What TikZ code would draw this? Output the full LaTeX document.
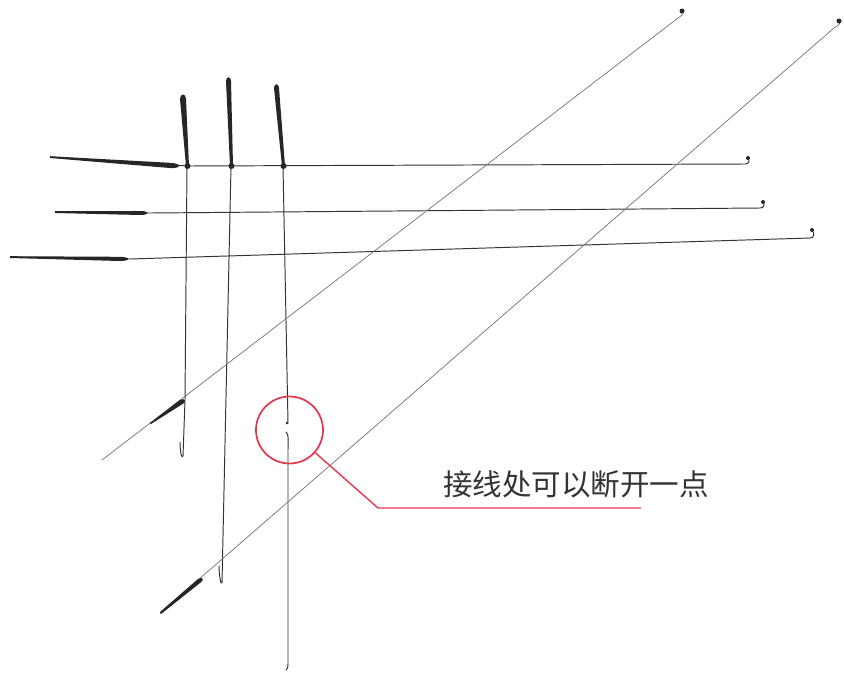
\documentclass[tikz,border=0pt]{standalone}
\usepackage{fontspec}
\newfontfamily\cjk{Noto Sans CJK SC}
\usepackage{xcolor}
\usetikzlibrary{calc}
\usetikzlibrary{positioning}
\definecolor{ringred}{RGB}{226,58,80}

\begin{document}
\begin{tikzpicture}[x=0.02cm,y=-0.02cm,
	pen/.style={line width=0.55pt,draw=black!80,line cap=round,line join=round},
	faint/.style={line width=0.4pt,draw=black!55,line cap=round,line join=round},
	ink/.style={fill=black!85}]
		\useasboundingbox[fill=white] (0,0) rectangle (844,673);

		% horizontal wires
		\draw[pen] (50,157) -- (188,166) -- (745,164) .. controls (749,164) and (750,161) .. (748,158);
		\draw[pen] (55,212) -- (150,213) -- (760,208) .. controls (764,208) and (765,205) .. (763,202);
		\draw[pen] (10,257) -- (130,259) -- (810,238) .. controls (814,238) and (815,234) .. (812,230);
		\fill[ink] (50,156.2) -- (170,162.8) .. controls (182,163.2) and (182,168.8) .. (170,168) -- (50,158) -- cycle;
		\fill[ink] (55,211.2) -- (140,211) .. controls (150,210.8) and (150,215.2) .. (140,215) -- (55,213) -- cycle;
		\fill[ink] (10,256.2) -- (120,256.8) .. controls (131,257) and (131,261) .. (120,261) -- (10,258) -- cycle;
		\fill[ink] (748,158) circle (2);
		\fill[ink] (763,202) circle (2);
		\fill[ink] (812,230) circle (2);

		% vertical wires
		\draw[pen] (183,96) -- (187,166) -- (185,400) -- (183,456) .. controls (182,460) and (180,452) .. (180,442);
		\draw[pen] (228,79) -- (231,166) -- (222,583) .. controls (221,586) and (219,575) .. (219,566);
		\draw[pen] (276,86) -- (283,166) -- (288,423);
		\draw[pen] (286,432) .. controls (289,434) and (288,440) .. (288,450) -- (288,664) .. controls (288,668) and (287,669) .. (286,670);
		\fill[ink] (180,99) .. controls (180,93) and (186,93) .. (186,99) -- (189,166) -- (186,166) -- cycle;
		\fill[ink] (226,81) .. controls (226,76) and (231,76) .. (231,81) -- (233,166) -- (230,166) -- cycle;
		\fill[ink] (274,88) .. controls (274,83) and (279,83) .. (279,88) -- (285,166) -- (282,166) -- cycle;
		\fill[ink] (187.5,166) circle (3);
		\fill[ink] (231.5,166) circle (3);
		\fill[ink] (283.5,166) circle (3);
		\fill[ink] (287,423) circle (1.3);

		% diagonal wires
		\draw[faint] (102,460) -- (678,18) .. controls (683,15) and (684,13) .. (682,11);
		\draw[faint] (160,613) -- (834,28) .. controls (839,25) and (841,24) .. (839,20);
		\fill[ink] (150,423) -- (180,400) .. controls (186,397) and (187,403) .. (181,405) -- (151,424) -- cycle;
		\fill[ink] (160,612) -- (198,579) .. controls (203,576) and (205,580) .. (200,583) -- (161,614) -- cycle;
		\fill[ink] (682,11) circle (2.5);
		\fill[ink] (839,21) circle (2.5);

		%callout
		\node[circle,draw=ringred,line width=1pt,minimum size=1.34cm,inner sep=0pt] (ring) at (289.5,430) {};
		\node[anchor=base west,font=\cjk\fontsize{16.8}{20}\selectfont,text=black!80,inner sep=0pt] (note) at (443,495) {接线处可以断开一点};
		\coordinate (knee) at (378,508);
		\coordinate (tail) at (641,508);
		\draw[ringred,line width=0.8pt] (ring) -- (knee) -- (tail);

	\end{tikzpicture}
\end{document}
